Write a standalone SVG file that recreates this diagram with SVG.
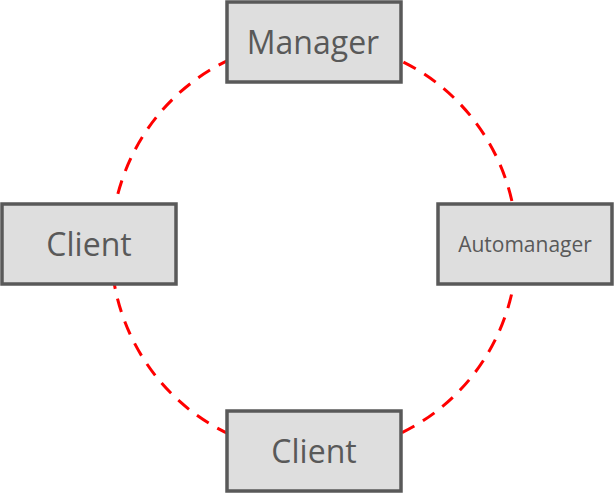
<svg xmlns="http://www.w3.org/2000/svg" width="614" height="496" viewBox="0 0 614 496">
<style>
.box{fill:#dedede;stroke:#595959;stroke-width:3.5;}
.lbl{font-family:"Open Sans","Liberation Sans",sans-serif;fill:#595959;text-anchor:middle;}
.ring{fill:none;stroke:#ff0000;stroke-width:3;stroke-dasharray:14 10;}
</style>
<rect width="614" height="496" fill="#ffffff"/>
<g id="connectors">
<ellipse class="ring" cx="314" cy="247" rx="203" ry="206"/>
</g>
<g id="manager">
<rect class="box" x="227" y="2" width="174" height="80"/>
<text class="lbl" x="313" y="54" font-size="32">Manager</text>
</g>
<g id="client-left">
<rect class="box" x="2" y="204" width="174" height="80"/>
<text class="lbl" x="89" y="256" font-size="32">Client</text>
</g>
<g id="automanager">
<rect class="box" x="438" y="204" width="174" height="80"/>
<text class="lbl" x="525" y="252" font-size="21">Automanager</text>
</g>
<g id="client-bottom">
<rect class="box" x="227" y="411" width="174" height="80"/>
<text class="lbl" x="314" y="463" font-size="32">Client</text>
</g>
</svg>
